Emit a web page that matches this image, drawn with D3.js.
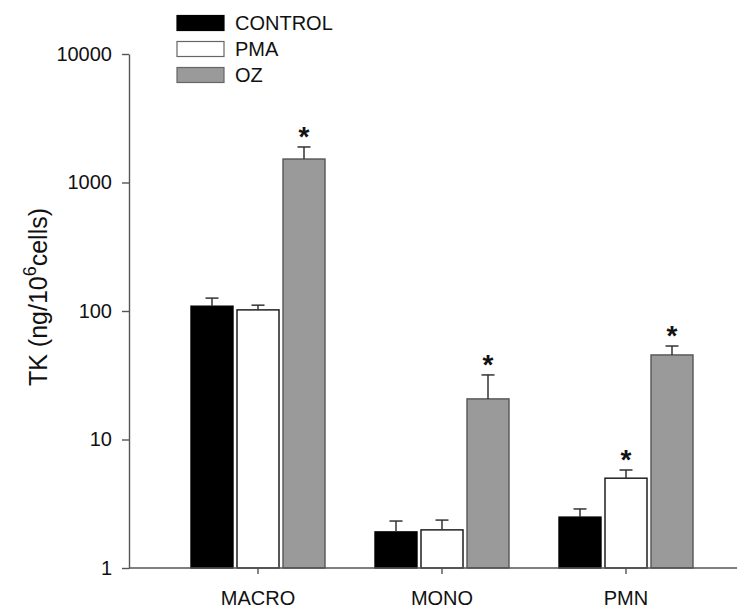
<!DOCTYPE html>
<html>
<head>
<meta charset="utf-8">
<script src="https://cdn.jsdelivr.net/npm/d3@7"></script>
<style>
  html, body { margin: 0; padding: 0; background: #fff; }
  svg { display: block; font-family: "Liberation Sans", Arial, Helvetica, sans-serif; }
</style>
</head>
<body>
<svg id="chart" width="750" height="615"></svg>
<script>
// ---- data ----
const categories = ["MACRO", "MONO", "PMN"];
const series = ["CONTROL", "PMA", "OZ"];
const controlValues = [109, 1.91, 2.49];
const controlErrors = [126, 2.32, 2.88];
const pmaValues = [102, 1.98, 5.0];
const pmaErrors = [111, 2.36, 5.79];
const ozValues = [1523, 20.7, 45.5];
const ozErrors = [1890, 31.8, 53.4];
const significant = [[false, false, false], [false, false, true], [true, true, true]]; // per series, per category
const yTicks = [1, 10, 100, 1000, 10000];

const valuesBySeries = [controlValues, pmaValues, ozValues];
const errorsBySeries = [controlErrors, pmaErrors, ozErrors];
const fills = { CONTROL: "#000000", PMA: "#ffffff", OZ: "#9a9a9a" };
const strokes = { CONTROL: "#000000", PMA: "#111111", OZ: "#555555" };

const rows = [];
series.forEach((s, si) => categories.forEach((c, ci) => {
  rows.push({ series: s, cat: c, value: valuesBySeries[si][ci], err: errorsBySeries[si][ci], sig: significant[si][ci] });
}));

const svg = d3.select("#chart");
const axisLeftX = 129, axisRightX = 737, baseY = 568, topY = 54;

const y = d3.scaleLog().domain([1, 10000]).range([baseY, topY]);
const x = d3.scaleBand().domain(categories).range([166, 718]).padding(0);
const xs = d3.scaleBand().domain(series).range([25, 159]).paddingInner(0.087).paddingOuter(0);

// bars
const g = svg.append("g");
g.selectAll("rect.bar").data(rows).join("rect")
  .attr("class", "bar")
  .attr("x", d => x(d.cat) + xs(d.series))
  .attr("width", xs.bandwidth())
  .attr("y", d => y(d.value))
  .attr("height", d => y(1) - y(d.value))
  .attr("fill", d => fills[d.series])
  .attr("stroke", d => strokes[d.series])
  .attr("stroke-width", 1.4);

// error bars (upper only)
const capW = 13;
rows.forEach(d => {
  const cx = x(d.cat) + xs(d.series) + xs.bandwidth() / 2;
  g.append("line").attr("x1", cx).attr("x2", cx)
    .attr("y1", y(d.value)).attr("y2", y(d.err))
    .attr("stroke", "#333").attr("stroke-width", 1.5);
  g.append("line").attr("x1", cx - capW / 2).attr("x2", cx + capW / 2)
    .attr("y1", y(d.err)).attr("y2", y(d.err))
    .attr("stroke", "#333").attr("stroke-width", 1.5);
  if (d.sig) {
    g.append("text").attr("x", cx).attr("y", y(d.err) - 1)
      .attr("text-anchor", "middle")
      .attr("font-size", 28).attr("font-weight", "bold")
      .attr("fill", "#111")
      .text("*");
  }
});

// y axis
const yAxis = d3.axisLeft(y).tickValues(yTicks).tickFormat(d3.format("d")).tickSize(7).tickSizeOuter(0).tickPadding(10);
const ya = svg.append("g").attr("transform", `translate(${axisLeftX},0)`).call(yAxis);
ya.select(".domain").attr("stroke", "#555").attr("stroke-width", 1.4);
ya.selectAll(".tick line").attr("stroke", "#555").attr("stroke-width", 1.4);
ya.selectAll(".tick text").attr("font-size", 20).attr("fill", "#111")
  .attr("font-family", "'Liberation Sans', Arial, sans-serif");

// x axis
const xAxis = d3.axisBottom(x).tickSize(6).tickSizeOuter(0).tickPadding(17);
const xa = svg.append("g").attr("transform", `translate(0,${baseY})`).call(xAxis);
xa.select(".domain").remove();
xa.selectAll(".tick line").attr("stroke", "#555").attr("stroke-width", 1.4);
xa.selectAll(".tick text").attr("font-size", 20).attr("fill", "#111")
  .attr("font-family", "'Liberation Sans', Arial, sans-serif");
svg.append("line").attr("x1", axisLeftX).attr("x2", axisRightX)
  .attr("y1", baseY).attr("y2", baseY).attr("stroke", "#555").attr("stroke-width", 1.4);

// y label
const yl = svg.append("text")
  .attr("transform", `translate(47, 297) rotate(-90)`)
  .attr("text-anchor", "middle")
  .attr("font-size", 25).attr("fill", "#111");
yl.append("tspan").text("TK (ng/10");
yl.append("tspan").attr("dy", -11).attr("font-size", 18).text("6");
yl.append("tspan").attr("dy", 11).text("cells)");

// legend
const lg = svg.append("g");
series.forEach((s, i) => {
  const cy = 23 + i * 26;
  lg.append("rect").attr("x", 177).attr("y", cy - 7.5).attr("width", 47).attr("height", 15)
    .attr("fill", fills[s]).attr("stroke", s === "CONTROL" ? "#000" : "#666").attr("stroke-width", 1.2);
  lg.append("text").attr("x", 235).attr("y", cy).attr("dy", "0.36em")
    .attr("font-size", 20).attr("fill", "#111").text(s);
});
</script>
</body>
</html>
